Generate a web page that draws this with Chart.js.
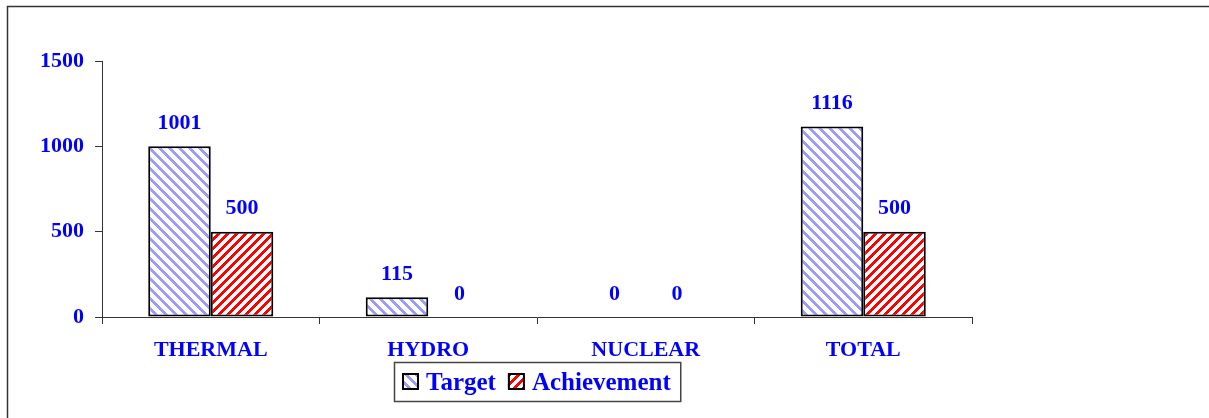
<!DOCTYPE html>
<html>
<head>
<meta charset="utf-8">
<script src="https://cdn.jsdelivr.net/npm/chart.js@4"></script>
<style>
  body { margin: 0; background: #fff; }
  #wrap { width: 1209px; height: 418px; }
</style>
</head>
<body>
<div id="wrap"><canvas id="myChart" width="1209" height="418"></canvas></div>
<script>
// chart data
var categories = ["THERMAL", "HYDRO", "NUCLEAR", "TOTAL"];
var targetValues = [1001, 115, 0, 1116];
var achievementValues = [500, 0, 0, 500];
var yTicks = [0, 500, 1000, 1500];

var blue = '#0000FF';
var fontFamily = '"Liberation Serif", "Times New Roman", serif';

// diagonal stripe fill, built pixel by pixel so the tile has no seams
function makeStripes(color, size, width, backslash) {
  var c = document.createElement('canvas');
  c.width = size;
  c.height = size;
  var g = c.getContext('2d');
  g.fillStyle = '#fff';
  g.fillRect(0, 0, size, size);
  g.fillStyle = color;
  for (var y = 0; y < size; y++) {
    for (var x = 0; x < size; x++) {
      var d = backslash ? (x - y + size * 2) % size : (x + y) % size;
      if (d < width) g.fillRect(x, y, 1, 1);
    }
  }
  return g.createPattern(c, 'repeat');
}

var targetFill = makeStripes('#9c9cff', 10, 4, true);
var achievementFill = makeStripes('#ff0000', 9, 4, false);

// outer frame
var framePlugin = {
  id: 'frame',
  beforeDraw: function(chart) {
    var ctx = chart.ctx;
    ctx.save();
    ctx.strokeStyle = '#333';
    ctx.lineWidth = 1.5;
    ctx.strokeRect(7.5, 6.5, 1400, 600);
    ctx.restore();
  }
};

// value labels over the bars
var valueLabels = {
  id: 'valueLabels',
  afterDatasetsDraw: function(chart) {
    var ctx = chart.ctx;
    ctx.save();
    ctx.font = 'bold 22px ' + fontFamily;
    ctx.fillStyle = blue;
    ctx.textAlign = 'center';
    ctx.textBaseline = 'middle';
    chart.data.datasets.forEach(function(ds, i) {
      chart.getDatasetMeta(i).data.forEach(function(bar, j) {
        ctx.fillText(String(ds.data[j]), bar.x, bar.y - 23);
      });
    });
    ctx.restore();
  }
};

// boxed legend under the axis
var boxedLegend = {
  id: 'boxedLegend',
  afterDraw: function(chart) {
    var ctx = chart.ctx;
    ctx.save();
    ctx.font = 'bold 25px ' + fontFamily;
    ctx.textBaseline = 'alphabetic';
    ctx.textAlign = 'left';
    var x = 402;
    var top = 373;
    var sw = 17;
    chart.data.datasets.forEach(function(ds, i) {
      ctx.fillStyle = ds.backgroundColor;
      ctx.fillRect(x, top, sw, sw);
      ctx.strokeStyle = '#000';
      ctx.lineWidth = 2;
      ctx.strokeRect(x + 1, top + 1, sw - 2, sw - 2);
      x += sw + 7;
      ctx.fillStyle = blue;
      ctx.fillText(ds.label, x, top + 17);
      x += ctx.measureText(ds.label).width;
      if (i < chart.data.datasets.length - 1) x += 12;
    });
    ctx.strokeStyle = '#444';
    ctx.lineWidth = 1.5;
    ctx.strokeRect(394.5, 362.5, x + 10 - 394.5, 39);
    ctx.restore();
  }
};

var ctx = document.getElementById('myChart').getContext('2d');
var chart = new Chart(ctx, {
  type: 'bar',
  data: {
    labels: categories,
    datasets: [{
      label: 'Target',
      data: targetValues,
      backgroundColor: targetFill,
      borderColor: '#000',
      borderWidth: 2,
      borderSkipped: false
    }, {
      label: 'Achievement',
      data: achievementValues,
      backgroundColor: achievementFill,
      borderColor: '#000',
      borderWidth: 2,
      borderSkipped: false
    }]
  },
  options: {
    responsive: false,
    animation: false,
    layout: { padding: { top: 61, right: 237, bottom: 0, left: 0 } },
    datasets: { bar: { categoryPercentage: 0.575, barPercentage: 1 } },
    plugins: {
      legend: { display: false },
      tooltip: { enabled: false }
    },
    scales: {
      x: {
        grid: { display: true, drawOnChartArea: false, drawTicks: true, tickLength: 7, color: '#333', offset: true },
        border: { display: true, color: '#333', width: 1 },
        ticks: { color: blue, padding: 13, font: { family: fontFamily, size: 22, weight: 'bold' } },
        afterFit: function(s) { s.height = 101; }
      },
      y: {
        min: 0,
        max: 1500,
        afterBuildTicks: function(s) { s.ticks = yTicks.map(function(v) { return { value: v }; }); },
        grid: { display: true, drawOnChartArea: false, drawTicks: true, tickLength: 7, color: '#333' },
        border: { display: true, color: '#333', width: 1 },
        ticks: {
          color: blue,
          padding: 11,
          font: { family: fontFamily, size: 22, weight: 'bold' },
          callback: function(v) { return String(v); }
        },
        afterFit: function(s) { s.width = 102; }
      }
    }
  },
  plugins: [framePlugin, valueLabels, boxedLegend]
});
</script>
</body>
</html>
